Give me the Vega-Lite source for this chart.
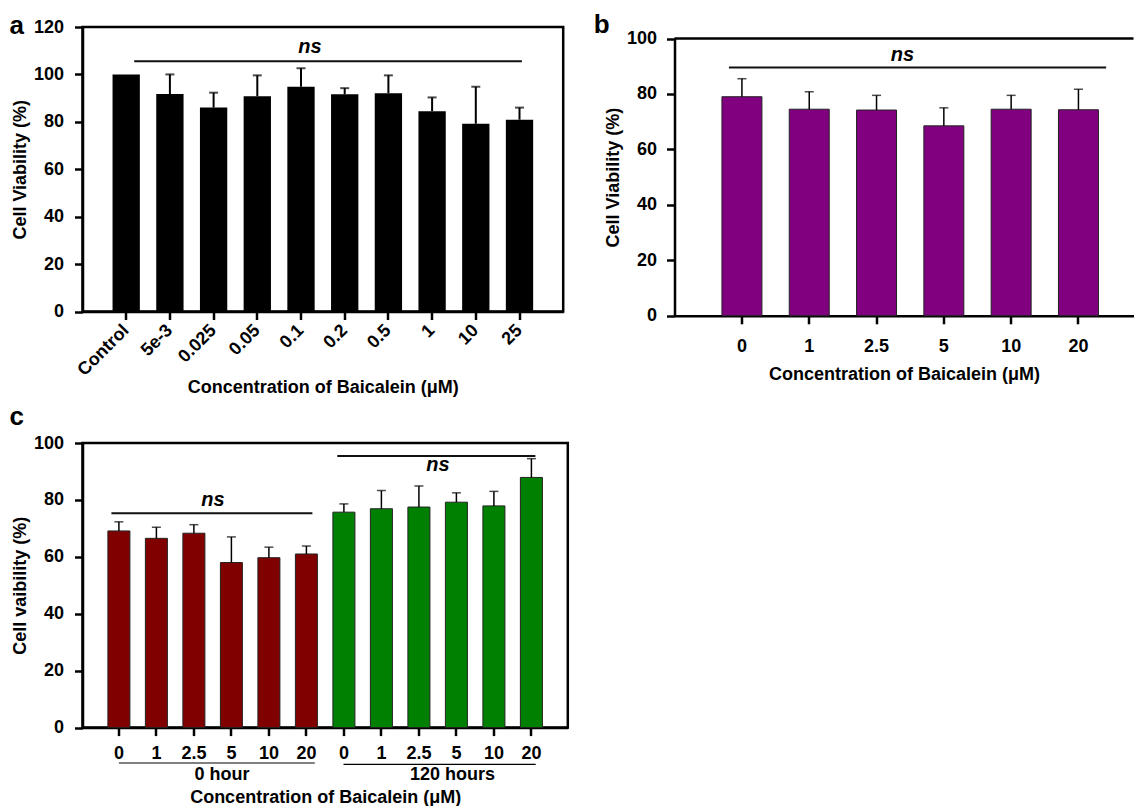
{
  "$schema": "https://vega.github.io/schema/vega-lite/v6.json",
  "background": "white",
  "padding": {"left": 7.5, "top": 11, "right": 0, "bottom": 0},
  "config": {
    "font": "Liberation Sans",
    "view": {"stroke": "black", "strokeWidth": 2.5},
    "axis": {"labelFontSize": 18, "labelFontWeight": "bold", "labelColor": "black", "titleFontSize": 18, "titleFontWeight": "bold", "titleColor": "black", "domainColor": "black", "domainWidth": 2.5, "tickColor": "black", "tickWidth": 2.5, "tickSize": 8, "grid": false, "labelPadding": 11},
    "axisY": {"titlePadding": 4},
    "axisX": {"titlePadding": 6},
    "title": {"fontSize": 26, "fontWeight": "bold", "anchor": "start", "frame": "group", "color": "black", "baseline": "alphabetic"}
  },
  "spacing": 5,
  "vconcat": [
    {
      "spacing": 29,
      "hconcat": [
        {
          "width": 480.7,
          "height": 284.5,
          "title": {"text": "a", "dx": -73, "offset": -20.5},
          "data": {"values": [
            {"conc": "Control", "mean": 100, "upper": null},
            {"conc": "5e-3", "mean": 91.7, "upper": 100},
            {"conc": "0.025", "mean": 86, "upper": 92.3},
            {"conc": "0.05", "mean": 90.8, "upper": 99.6},
            {"conc": "0.1", "mean": 94.8, "upper": 102.6},
            {"conc": "0.2", "mean": 91.6, "upper": 94.2},
            {"conc": "0.5", "mean": 92.1, "upper": 99.6},
            {"conc": "1", "mean": 84.5, "upper": 90.3},
            {"conc": "10", "mean": 79.2, "upper": 94.8},
            {"conc": "25", "mean": 80.9, "upper": 86}
          ]},
          "layer": [
            {
              "mark": {"type": "bar", "color": "black"},
              "encoding": {
                "x": {"field": "conc", "type": "nominal", "title": "Concentration of Baicalein (μM)", "scale": {"domain": ["Control", "5e-3", "0.025", "0.05", "0.1", "0.2", "0.5", "1", "10", "25"], "paddingInner": 0.375, "paddingOuter": 0.6875}, "axis": {"labelAngle": -45, "labelAlign": "right", "labelBaseline": "middle", "labelPadding": 8, "titlePadding": -1}},
                "y": {"field": "mean", "type": "quantitative", "title": "Cell Viability (%)", "scale": {"domain": [0, 120]}, "axis": {"values": [0, 20, 40, 60, 80, 100, 120]}}
              }
            },
            {
              "transform": [{"filter": "isValid(datum.upper)"}],
              "mark": {"type": "rule", "color": "black", "strokeWidth": 2},
              "encoding": {
                "x": {"field": "conc", "type": "nominal", "title": "Concentration of Baicalein (μM)"},
                "y": {"field": "mean", "type": "quantitative", "title": "Cell Viability (%)"},
                "y2": {"field": "upper"}
              }
            },
            {
              "transform": [{"filter": "isValid(datum.upper)"}],
              "mark": {"type": "tick", "orient": "horizontal", "color": "black", "size": 9, "thickness": 2},
              "encoding": {
                "x": {"field": "conc", "type": "nominal", "title": "Concentration of Baicalein (μM)"},
                "y": {"field": "upper", "type": "quantitative", "title": "Cell Viability (%)"}
              }
            },
            {
              "data": {"values": [{"from": "Control", "to": "25"}]},
              "mark": {"type": "rule", "color": "#111111", "strokeWidth": 2, "xOffset": 8, "x2Offset": 2.4},
              "encoding": {
                "x": {"field": "from", "type": "nominal", "title": "Concentration of Baicalein (μM)"},
                "x2": {"field": "to"},
                "y": {"datum": 105.6}
              }
            },
            {
              "data": {"values": [{"at": "0.1", "label": "ns"}]},
              "mark": {"type": "text", "fontSize": 20, "fontStyle": "italic", "fontWeight": "bold", "color": "black", "dx": 9, "baseline": "middle"},
              "encoding": {
                "x": {"field": "at", "type": "nominal", "title": "Concentration of Baicalein (μM)"},
                "y": {"datum": 111.6},
                "text": {"field": "label"}
              }
            }
          ]
        },
        {
          "width": 459,
          "height": 288.8,
          "view": {"stroke": null},
          "title": {"text": "b", "dx": -80.7, "offset": -10.5},
          "data": {"values": [
            {"conc": "0", "mean": 79.0, "upper": 85.5},
            {"conc": "1", "mean": 74.5, "upper": 80.8},
            {"conc": "2.5", "mean": 74.2, "upper": 79.5},
            {"conc": "5", "mean": 68.5, "upper": 75.0},
            {"conc": "10", "mean": 74.5, "upper": 79.5},
            {"conc": "20", "mean": 74.3, "upper": 81.7}
          ]},
          "layer": [
            {
              "mark": {"type": "bar", "color": "#800080", "stroke": "#222222", "strokeWidth": 1},
              "encoding": {
                "x": {"field": "conc", "type": "nominal", "title": "Concentration of Baicalein (μM)", "scale": {"domain": ["0", "1", "2.5", "5", "10", "20"], "paddingInner": 0.406, "paddingOuter": 0.613, "align": 0.575}, "axis": {"labelAngle": 0, "labelPadding": 14, "titlePadding": 10}},
                "y": {"field": "mean", "type": "quantitative", "title": "Cell Viability (%)", "scale": {"domain": [0, 100], "range": [288.8, 11.5]}, "axis": {"values": [0, 20, 40, 60, 80, 100], "labelPadding": 10}}
              }
            },
            {
              "mark": {"type": "rule", "color": "black", "strokeWidth": 1.5},
              "encoding": {
                "x": {"field": "conc", "type": "nominal", "title": "Concentration of Baicalein (μM)"},
                "y": {"field": "mean", "type": "quantitative", "title": "Cell Viability (%)"},
                "y2": {"field": "upper"}
              }
            },
            {
              "mark": {"type": "tick", "orient": "horizontal", "color": "black", "size": 9, "thickness": 1.5},
              "encoding": {
                "x": {"field": "conc", "type": "nominal", "title": "Concentration of Baicalein (μM)"},
                "y": {"field": "upper", "type": "quantitative", "title": "Cell Viability (%)"}
              }
            },
            {
              "data": {"values": [{"edge": "top"}]},
              "mark": {"type": "rule", "color": "black", "strokeWidth": 2.5},
              "encoding": {"y": {"datum": 100}}
            },
            {
              "data": {"values": [{"from": "0", "to": "20"}]},
              "mark": {"type": "rule", "color": "#111111", "strokeWidth": 2, "xOffset": -13, "x2Offset": 27.7},
              "encoding": {
                "x": {"field": "from", "type": "nominal", "title": "Concentration of Baicalein (μM)"},
                "x2": {"field": "to"},
                "y": {"datum": 89.5}
              }
            },
            {
              "data": {"values": [{"at": "2.5", "label": "ns"}]},
              "mark": {"type": "text", "fontSize": 20, "fontStyle": "italic", "fontWeight": "bold", "color": "black", "dx": 26, "baseline": "middle"},
              "encoding": {
                "x": {"field": "at", "type": "nominal", "title": "Concentration of Baicalein (μM)"},
                "y": {"datum": 94},
                "text": {"field": "label"}
              }
            }
          ]
        }
      ]
    },
    {
      "width": 485.3,
      "height": 284.6,
      "title": {"text": "c", "dx": -73, "offset": 3.7},
      "data": {"values": [
        {"key": "0|0h", "time": "0 hour", "mean": 69.1, "upper": 72.3},
        {"key": "1|0h", "time": "0 hour", "mean": 66.5, "upper": 70.4},
        {"key": "2.5|0h", "time": "0 hour", "mean": 68.3, "upper": 71.3},
        {"key": "5|0h", "time": "0 hour", "mean": 58.0, "upper": 67.0},
        {"key": "10|0h", "time": "0 hour", "mean": 59.7, "upper": 63.4},
        {"key": "20|0h", "time": "0 hour", "mean": 61.0, "upper": 63.8},
        {"key": "0|120h", "time": "120 hours", "mean": 75.7, "upper": 78.6},
        {"key": "1|120h", "time": "120 hours", "mean": 76.9, "upper": 83.3},
        {"key": "2.5|120h", "time": "120 hours", "mean": 77.5, "upper": 84.9},
        {"key": "5|120h", "time": "120 hours", "mean": 79.2, "upper": 82.5},
        {"key": "10|120h", "time": "120 hours", "mean": 77.9, "upper": 83.0},
        {"key": "20|120h", "time": "120 hours", "mean": 87.9, "upper": 94.5}
      ]},
      "layer": [
        {
          "mark": {"type": "bar", "stroke": "#222222", "strokeWidth": 1},
          "encoding": {
            "x": {"field": "key", "type": "nominal", "title": "Concentration of Baicalein (μM)", "scale": {"domain": ["0|0h", "1|0h", "2.5|0h", "5|0h", "10|0h", "20|0h", "0|120h", "1|120h", "2.5|120h", "5|120h", "10|120h", "20|120h"], "paddingInner": 0.413, "paddingOuter": 0.677}, "axis": {"labelAngle": 0, "labelPadding": 9, "titlePadding": 26, "labelExpr": "split(datum.label, '|')[0]"}},
            "y": {"field": "mean", "type": "quantitative", "title": "Cell vaibility (%)", "scale": {"domain": [0, 100]}, "axis": {"values": [0, 20, 40, 60, 80, 100]}},
            "color": {"field": "time", "type": "nominal", "scale": {"domain": ["0 hour", "120 hours"], "range": ["#800000", "#008000"]}, "legend": null}
          }
        },
        {
          "mark": {"type": "rule", "color": "black", "strokeWidth": 1.5},
          "encoding": {
            "x": {"field": "key", "type": "nominal", "title": "Concentration of Baicalein (μM)"},
            "y": {"field": "mean", "type": "quantitative", "title": "Cell vaibility (%)"},
            "y2": {"field": "upper"}
          }
        },
        {
          "mark": {"type": "tick", "orient": "horizontal", "color": "black", "size": 9, "thickness": 1.5},
          "encoding": {
            "x": {"field": "key", "type": "nominal", "title": "Concentration of Baicalein (μM)"},
            "y": {"field": "upper", "type": "quantitative", "title": "Cell vaibility (%)"}
          }
        },
        {
          "data": {"values": [{"from": "0|0h", "to": "20|0h"}]},
          "mark": {"type": "rule", "color": "#111111", "strokeWidth": 2, "xOffset": -7.5, "x2Offset": 6},
          "encoding": {
            "x": {"field": "from", "type": "nominal", "title": "Concentration of Baicalein (μM)"},
            "x2": {"field": "to"},
            "y": {"datum": 75.3}
          }
        },
        {
          "data": {"values": [{"at": "2.5|0h", "label": "ns"}]},
          "mark": {"type": "text", "fontSize": 20, "fontStyle": "italic", "fontWeight": "bold", "color": "black", "dx": 19, "baseline": "middle"},
          "encoding": {
            "x": {"field": "at", "type": "nominal", "title": "Concentration of Baicalein (μM)"},
            "y": {"datum": 79.9},
            "text": {"field": "label"}
          }
        },
        {
          "data": {"values": [{"from": "0|120h", "to": "20|120h"}]},
          "mark": {"type": "rule", "color": "#111111", "strokeWidth": 2, "xOffset": -6.6, "x2Offset": 4},
          "encoding": {
            "x": {"field": "from", "type": "nominal", "title": "Concentration of Baicalein (μM)"},
            "x2": {"field": "to"},
            "y": {"datum": 95.4}
          }
        },
        {
          "data": {"values": [{"at": "2.5|120h", "label": "ns"}]},
          "mark": {"type": "text", "fontSize": 20, "fontStyle": "italic", "fontWeight": "bold", "color": "black", "dx": 19, "baseline": "middle"},
          "encoding": {
            "x": {"field": "at", "type": "nominal", "title": "Concentration of Baicalein (μM)"},
            "y": {"datum": 92.4},
            "text": {"field": "label"}
          }
        },
        {
          "data": {"values": [{"from": "0|0h", "to": "20|0h"}]},
          "mark": {"type": "rule", "color": "#808080", "strokeWidth": 2, "xOffset": 0, "x2Offset": 8.4},
          "encoding": {
            "x": {"field": "from", "type": "nominal", "title": "Concentration of Baicalein (μM)"},
            "x2": {"field": "to"},
            "y": {"datum": -12.4}
          }
        },
        {
          "data": {"values": [{"from": "0|120h", "to": "20|120h"}]},
          "mark": {"type": "rule", "color": "black", "strokeWidth": 1.2, "xOffset": -0.4, "x2Offset": 4.3},
          "encoding": {
            "x": {"field": "from", "type": "nominal", "title": "Concentration of Baicalein (μM)"},
            "x2": {"field": "to"},
            "y": {"datum": -12.9}
          }
        },
        {
          "data": {"values": [{"at": "5|0h", "label": "0 hour"}]},
          "mark": {"type": "text", "fontSize": 18, "fontWeight": "bold", "color": "black", "dx": -9.3, "baseline": "middle"},
          "encoding": {
            "x": {"field": "at", "type": "nominal", "title": "Concentration of Baicalein (μM)"},
            "y": {"datum": -16.5},
            "text": {"field": "label"}
          }
        },
        {
          "data": {"values": [{"at": "5|120h", "label": "120 hours"}]},
          "mark": {"type": "text", "fontSize": 18, "fontWeight": "bold", "color": "black", "dx": -4, "baseline": "middle"},
          "encoding": {
            "x": {"field": "at", "type": "nominal", "title": "Concentration of Baicalein (μM)"},
            "y": {"datum": -16.5},
            "text": {"field": "label"}
          }
        }
      ]
    }
  ]
}
